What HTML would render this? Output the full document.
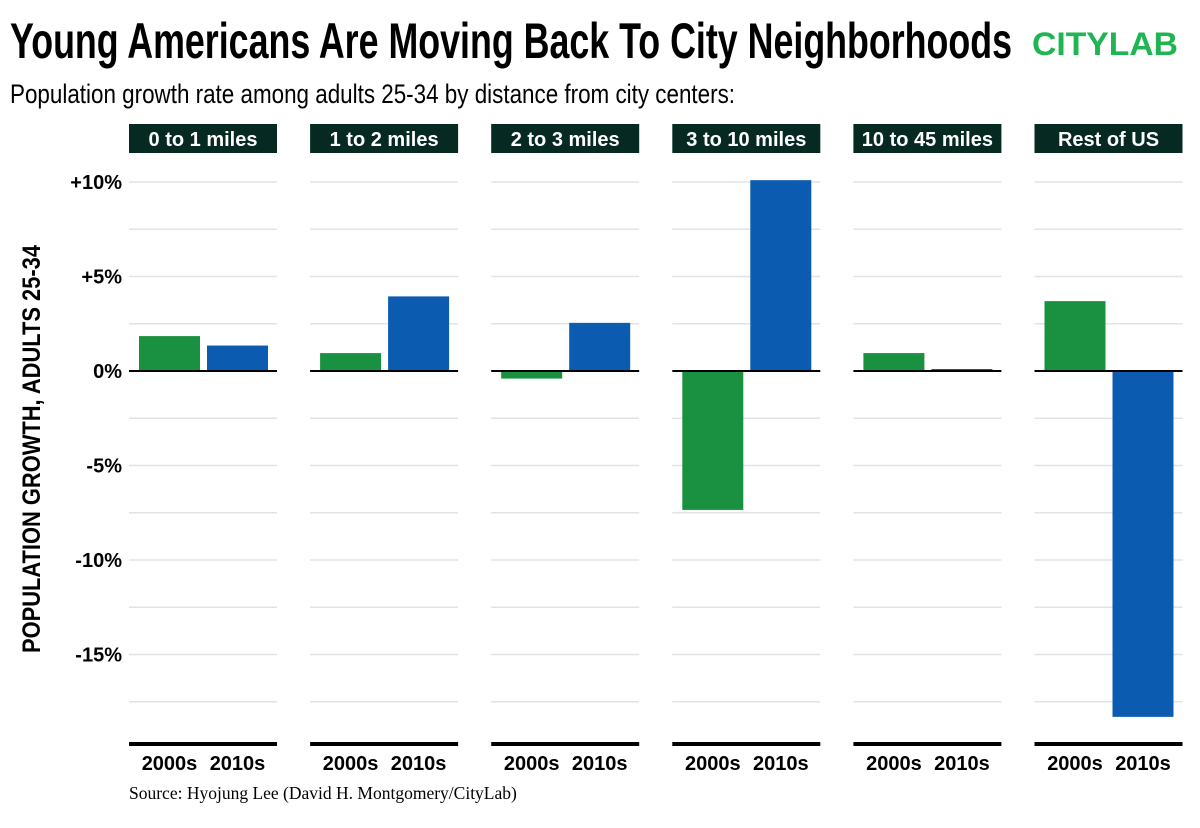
<!DOCTYPE html>
<html><head><meta charset="utf-8">
<style>
html,body{margin:0;padding:0;background:#fff;}
svg{display:block;}
.cond{font-family:"Liberation Sans Narrow","Liberation Sans",sans-serif;font-weight:bold;}
</style></head>
<body>
<svg id="chart" width="1200" height="828" viewBox="0 0 1200 828" xmlns="http://www.w3.org/2000/svg">
<text class="cond" x="10" y="58" font-size="50" textLength="1002" lengthAdjust="spacingAndGlyphs" fill="#000">Young Americans Are Moving Back To City Neighborhoods</text>
<text x="1032" y="55" font-family="Liberation Sans,sans-serif" font-weight="bold" font-size="32" textLength="146" lengthAdjust="spacingAndGlyphs" fill="#1fb552">CITYLAB</text>
<text font-family="Liberation Sans Narrow,Liberation Sans,sans-serif" x="10" y="103" font-size="27" textLength="725" lengthAdjust="spacingAndGlyphs" fill="#000">Population growth rate among adults 25-34 by distance from city centers:</text>
<text class="cond" transform="translate(40,449) rotate(-90)" text-anchor="middle" font-size="25" textLength="408" lengthAdjust="spacingAndGlyphs" fill="#000">POPULATION GROWTH, ADULTS 25-34</text>
<g id="plot"></g>
<text x="129" y="799" font-family="Liberation Serif,serif" font-size="17.5" fill="#000">Source: Hyojung Lee (David H. Montgomery/CityLab)</text>
</svg>
<script>
const panels = ["0 to 1 miles","1 to 2 miles","2 to 3 miles","3 to 10 miles","10 to 45 miles","Rest of US"];
const decades = ["2000s","2010s"];
const values2000s = [1.9, 1.0, -0.4, -7.35, 1.0, 3.75];
const values2010s = [1.4, 4.0, 2.6, 10.15, 0.05, -18.3];
const tickValues = [10, 5, 0, -5, -10, -15];
const tickLabels = ["+10%","+5%","0%","-5%","-10%","-15%"];
const gridValues = [10, 7.5, 5, 2.5, 0, -2.5, -5, -7.5, -10, -12.5, -15, -17.5];

const NS = "http://www.w3.org/2000/svg";
const g = document.getElementById("plot");
const y = v => 371 - v * 18.9;
const panelX = i => 129 + i * 181.1;
const PW = 148;
const barX = (i, j) => panelX(i) + 10 + j * 68;
const BW = 61;
const colors = ["#1a9041", "#0b5cb0"];
function mk(tag, attrs) { const e = document.createElementNS(NS, tag); for (const k in attrs) e.setAttribute(k, attrs[k]); g.appendChild(e); return e; }

tickValues.forEach((v, k) => {
  const t = mk("text", {x:122, y:y(v)+7, "text-anchor":"end", "font-size":20, class:"cond", fill:"#000"});
  
  
  t.textContent = tickLabels[k];
});

panels.forEach((p, i) => {
  const x0 = panelX(i);
  const hdr = mk("rect", {x:x0, y:124, width:PW, height:29, fill:"#062a22"});
  
  
  const ht = mk("text", {x:x0+PW/2, y:146, "text-anchor":"middle", "font-size":20, class:"cond", fill:"#fff"});
  
  
  ht.textContent = p;
  gridValues.forEach(v => {
    if (v === 0) return;
    const gl = mk("line", {x1:x0, x2:x0+PW, y1:y(v), y2:y(v), stroke:"#e3e3e3", "stroke-width":1.5});
    
    
  });
  [values2000s[i], values2010s[i]].forEach((v, j) => {
    const h = Math.max(Math.abs(y(v)-y(0)), 3);
    const top = v >= 0 ? y(0) - h + 1 : y(0);
    const b = mk("rect", {x:barX(i,j), y:top, width:BW, height:h, fill:colors[j]});
    
    
    const lt = mk("text", {x:barX(i,j)+BW/2, y:770, "text-anchor":"middle", "font-size":20, class:"cond", fill:"#000"});
    
    
    lt.textContent = decades[j];
  });
  const zl = mk("line", {x1:x0, x2:x0+PW, y1:y(0), y2:y(0), stroke:"#000", "stroke-width":2});
  
  
  const ax = mk("rect", {x:x0, y:742, width:PW, height:4, fill:"#000"});
  
  
});
</script>
</body></html>
